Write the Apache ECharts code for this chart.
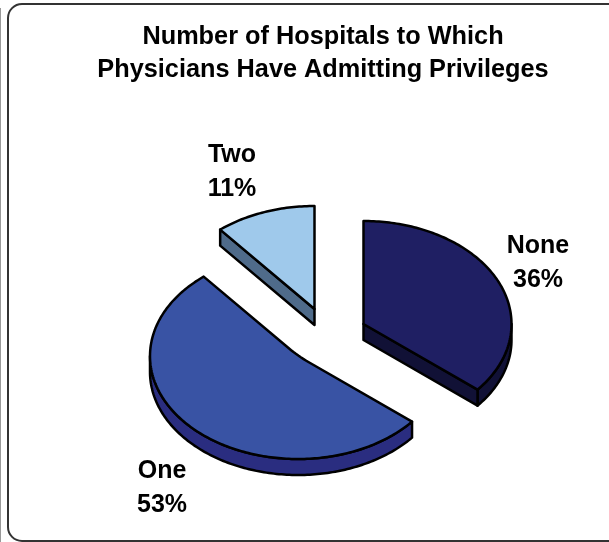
<!DOCTYPE html>
<html>
<head>
<meta charset="utf-8">
<style>html,body{margin:0;padding:0;background:#fff}#c{width:609px;height:542px}</style>
<script src="https://cdn.jsdelivr.net/npm/echarts@6/dist/echarts.min.js"></script>
</head>
<body>
<div id="c"></div>
<script>
const categories = ['None', 'One', 'Two'];
const values = [36, 53, 11];
const titleText = 'Number of Hospitals to Which\nPhysicians Have Admitting Privileges';

const topColors = ['#1f1f63', '#3953a4', '#9fc9eb'];
const wallColors = ['#111136', '#2a2d80', '#4f6b8a'];
const centers = [[363.5, 324], [298, 356], [314.5, 309]];
const labelPos = [[538, 263], [162, 488], [232, 172]];
const apexRound = [0, 12, 0];
const RX = 148, RY = 103, DEPTH = 16;
const FONT = '"Liberation Sans", Arial, sans-serif';
const total = values.reduce((a, b) => a + b, 0);

function pt(c, deg, dy) {
  const t = deg * Math.PI / 180;
  return [c[0] + RX * Math.sin(t), c[1] - RY * Math.cos(t) + (dy || 0)];
}
function arc(c, a, b, dy) {
  const out = [];
  const n = Math.max(2, Math.ceil(Math.abs(b - a)));
  for (let i = 0; i <= n; i++) out.push(pt(c, a + (b - a) * i / n, dy));
  return out;
}
function wall(points, fill) {
  return { type: 'polygon', shape: { points: points },
    style: { fill: fill, stroke: '#000', lineWidth: 2.5, lineJoin: 'round' } };
}
function apexPoints(c, a, b, r) {
  if (!r) return [c];
  const pa = pt(c, a), pb = pt(c, b);
  const unit = p => { const d = Math.hypot(p[0] - c[0], p[1] - c[1]); return [(p[0] - c[0]) / d, (p[1] - c[1]) / d]; };
  const ua = unit(pa), ub = unit(pb);
  const s = [c[0] + ua[0] * r, c[1] + ua[1] * r], e = [c[0] + ub[0] * r, c[1] + ub[1] * r];
  const out = [];
  for (let i = 0; i <= 8; i++) {
    const u = i / 8, v = 1 - u;
    out.push([v * v * e[0] + 2 * u * v * c[0] + u * u * s[0], v * v * e[1] + 2 * u * v * c[1] + u * u * s[1]]);
  }
  return out;
}

const startAngles = [];
values.reduce((acc, v, i) => { startAngles[i] = acc; return acc + v / total * 360; }, 0);

function renderItem(params, api) {
  const i = params.dataIndex;
  const a = startAngles[i];
  const b = a + api.value(0) / total * 360;
  const c = centers[i];
  const children = [];

  // outer wall: only the arc portion facing the viewer (90..270 degrees)
  const wa = Math.max(a, 90), wb = Math.min(b, 270);
  if (wb > wa) {
    children.push(wall(arc(c, wa, wb, 0).concat(arc(c, wb, wa, DEPTH)), wallColors[i]));
  }
  // radial cut faces that face the viewer
  if (b < 180) {
    const p = pt(c, b);
    children.push(wall([c, p, [p[0], p[1] + DEPTH], [c[0], c[1] + DEPTH]], wallColors[i]));
  }
  if (a >= 270) {
    const p = pt(c, a);
    children.push(wall([c, p, [p[0], p[1] + DEPTH], [c[0], c[1] + DEPTH]], wallColors[i]));
  }
  // top face
  children.push(wall(apexPoints(c, a, b, apexRound[i]).concat(arc(c, a, b, 0)), topColors[i]));
  // label
  children.push({ type: 'text', style: {
    x: labelPos[i][0], y: labelPos[i][1],
    text: categories[i] + '\n' + api.value(0) + '%',
    font: 'bold 25px ' + FONT, fill: '#000', align: 'center', verticalAlign: 'middle', lineHeight: 33.5
  } });
  return { type: 'group', children: children };
}

const chart = echarts.init(document.getElementById('c'), null, { renderer: 'canvas' });
chart.setOption({
  animation: false,
  backgroundColor: '#fff',
  title: {
    text: titleText, left: 318, top: 16, textAlign: 'center',
    textStyle: { fontFamily: FONT, fontWeight: 'bold', fontSize: 25.3, color: '#000', lineHeight: 33 }
  },
  graphic: [
    { type: 'rect', z: -1, shape: { x: 8, y: 4, width: 640, height: 537, r: 14 },
      style: { fill: 'none', stroke: '#333', lineWidth: 2 } },
    { type: 'line', z: -1, shape: { x1: 0.5, y1: 8, x2: 0.5, y2: 542 },
      style: { stroke: '#999', lineWidth: 1 } }
  ],
  series: [{
    type: 'custom',
    coordinateSystem: 'none',
    renderItem: renderItem,
    data: values.map((v, i) => ({ name: categories[i], value: [v] }))
  }]
});
</script>
</body>
</html>
